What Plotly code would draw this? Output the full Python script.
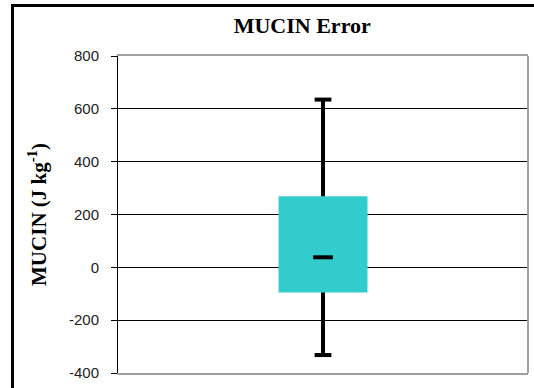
import plotly.graph_objects as go

# Data (J kg^-1)
category = [0]
stat_min = [-332]
stat_q1 = [-95]
stat_median = [38]
stat_q3 = [269]
stat_max = [635]
y_ticks = [-400, -200, 0, 200, 400, 600, 800]
y_tick_labels = ["-400", "-200", "0", "200", "400", "600", "800"]

TEAL = "#33CCCC"

fig = go.Figure()

# Box (interquartile range) as a based bar
fig.add_trace(go.Bar(
    x=category,
    y=[q3 - q1 for q1, q3 in zip(stat_q1, stat_q3)],
    base=stat_q1,
    width=0.217,
    marker=dict(color=TEAL, line=dict(width=0)),
    hoverinfo="skip",
    showlegend=False,
))

# Whiskers
wx, wy = [], []
for c, lo, q1, q3, hi in zip(category, stat_min, stat_q1, stat_q3, stat_max):
    wx += [c, c, None, c, c, None]
    wy += [q3, hi, None, q1, lo, None]
fig.add_trace(go.Scatter(
    x=wx, y=wy, mode="lines",
    line=dict(color="black", width=4),
    hoverinfo="skip", showlegend=False,
))

# Whisker caps
fig.add_trace(go.Scatter(
    x=category + category, y=stat_max + stat_min, mode="markers",
    marker=dict(symbol="line-ew", size=12, line=dict(color="black", width=4)),
    hoverinfo="skip", showlegend=False,
))

# Median dash
fig.add_trace(go.Scatter(
    x=category, y=stat_median, mode="markers",
    marker=dict(symbol="line-ew", size=14, line=dict(color="black", width=4)),
    hoverinfo="skip", showlegend=False,
))

fig.update_layout(
    width=534, height=388,
    margin=dict(l=118, r=6, t=56, b=15),
    paper_bgcolor="white", plot_bgcolor="white",
    title=dict(
        text="<b>MUCIN Error</b>",
        font=dict(family="Liberation Serif", size=22, color="black"),
        x=0.566, xanchor="center", xref="container",
        y=0.936, yanchor="middle",
    ),
    xaxis=dict(
        range=[-0.5, 0.5], showticklabels=False, ticks="", showgrid=False,
        zeroline=False, showline=True, mirror=True, linecolor="#A0A0A0", linewidth=2,
    ),
    yaxis=dict(
        range=[-400, 800], tickvals=y_ticks, ticktext=y_tick_labels,
        ticks="outside", ticklen=6, tickcolor="black", tickwidth=1,
        showgrid=True, gridcolor="black", gridwidth=1, zeroline=False,
        showline=True, linecolor="black", linewidth=1,
        tickfont=dict(family="Liberation Sans", size=15, color="#222222"),
        ticklabelstandoff=9,
        title=dict(
            text="<b>MUCIN (J kg<sup>-1</sup>)</b>",
            font=dict(family="Liberation Serif", size=21, color="black"),
            standoff=16,
        ),
    ),
    shapes=[
        # right border of plot area (gray)
        dict(type="line", xref="paper", yref="paper", x0=1, x1=1, y0=0, y1=1,
             line=dict(color="#A0A0A0", width=2), layer="above"),
        # outer chart frame (cropped on right and bottom)
        dict(type="rect", xref="paper", yref="paper",
             x0=-0.2573, x1=1.2, y0=-0.2, y1=1.1593,
             line=dict(color="black", width=3), layer="above"),
    ],
)

fig.write_html(
    "out.html",
    config={"displayModeBar": False},
    post_script="document.body.style.margin='0';document.body.style.overflow='hidden';",
)
